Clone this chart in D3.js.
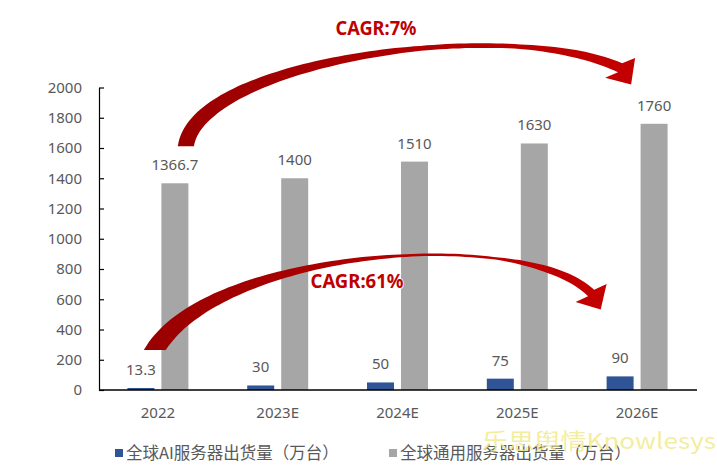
<!DOCTYPE html>
<html>
<head>
<meta charset="utf-8">
<script src="https://cdn.jsdelivr.net/npm/d3@7"></script>
<style>
  body { margin: 0; background: #fff; }
  svg { display: block; }
</style>
</head>
<body>
<div id="chart"></div>
<script>
// data
var years = ['2022', '2023E', '2024E', '2025E', '2026E'];
var aiShipments = [13.3, 30, 50, 75, 90];
var generalShipments = [1366.7, 1400, 1510, 1630, 1760];
var aiLabels = ['13.3', '30', '50', '75', '90'];
var generalLabels = ['1366.7', '1400', '1510', '1630', '1760'];
var yTicks = [0, 200, 400, 600, 800, 1000, 1200, 1400, 1600, 1800, 2000];
var seriesKeys = ['ai', 'gen'];
var seriesNames = ['全球AI服务器出货量（万台）', '全球通用服务器出货量（万台）'];
var cagrLabels = ['CAGR:7%', 'CAGR:61%'];

var svgWidth = 717;
var svgHeight = 471;
var colors = { ai: '#2f5597', gen: '#a6a6a6' };
var textColor = '#595959';
var numFont = '"Noto Sans", "Open Sans", sans-serif';
var cjkFont = '"Noto Sans CJK SC", "Noto Sans", sans-serif';

var svg = d3.select('#chart')
    .append('svg')
    .attr('width', svgWidth)
    .attr('height', svgHeight);

var defs = svg.append('defs');
var grad = defs.append('linearGradient')
    .attr('id', 'arrowGrad')
    .attr('x1', '0%').attr('y1', '0%')
    .attr('x2', '100%').attr('y2', '0%');
grad.append('stop').attr('offset', '0%').attr('stop-color', '#9a0000');
grad.append('stop').attr('offset', '100%').attr('stop-color', '#c40000');

// scales
var x0 = d3.scaleBand()
    .domain(years)
    .range([98, 697])
    .paddingInner(0.491)
    .paddingOuter(0.2455);

var x1 = d3.scaleBand()
    .domain(seriesKeys)
    .range([0, x0.bandwidth()])
    .paddingInner(0.206);

var y = d3.scaleLinear()
    .domain([0, 2000])
    .range([390, 87.5]);

var rows = years.map(function (yr, i) {
    return { year: yr, ai: aiShipments[i], gen: generalShipments[i], aiLabel: aiLabels[i], genLabel: generalLabels[i] };
});

function barCenter(year, key) {
    return x0(year) + x1(key) + x1.bandwidth() / 2;
}

// y axis with inside ticks
var leftAxis = d3.axisLeft(y)
    .tickValues(yTicks)
    .tickFormat(d3.format('d'))
    .tickSizeInner(-5)
    .tickSizeOuter(0)
    .tickPadding(17);

var yAxisG = svg.append('g')
    .attr('transform', 'translate(99,0)')
    .call(leftAxis);
yAxisG.select('.domain').attr('stroke', '#000').attr('stroke-width', 1.2);
yAxisG.selectAll('.tick line').attr('stroke', '#000').attr('stroke-width', 1.2);
yAxisG.selectAll('.tick text')
    .attr('fill', textColor)
    .style('font-family', numFont)
    .style('font-size', '15px');

// bars
var groups = svg.append('g').selectAll('g')
    .data(rows)
    .enter()
    .append('g')
    .attr('transform', function (d) { return 'translate(' + x0(d.year) + ',0)'; });

groups.selectAll('rect')
    .data(function (d) { return seriesKeys.map(function (k) { return { key: k, value: d[k] }; }); })
    .enter()
    .append('rect')
    .attr('x', function (d) { return x1(d.key); })
    .attr('y', function (d) { return y(d.value); })
    .attr('width', x1.bandwidth())
    .attr('height', function (d) { return y(0) - y(d.value); })
    .attr('fill', function (d) { return colors[d.key]; });

// x axis
var bottomAxis = d3.axisBottom(x0).tickSize(0).tickPadding(0);
var xAxisG = svg.append('g')
    .attr('transform', 'translate(0,390)')
    .call(bottomAxis);
xAxisG.select('.domain')
    .attr('d', 'M' + 99 + ',0H' + 697)
    .attr('stroke', '#000')
    .attr('stroke-width', 1.3);
xAxisG.selectAll('.tick text')
    .attr('dy', null)
    .attr('y', 28)
    .attr('fill', textColor)
    .style('font-family', numFont)
    .style('font-size', '15px');

// value labels
svg.append('g').selectAll('text')
    .data(rows)
    .enter()
    .append('text')
    .attr('x', function (d) { return barCenter(d.year, 'gen'); })
    .attr('y', function (d) { return y(d.gen) - 13; })
    .attr('text-anchor', 'middle')
    .attr('fill', textColor)
    .style('font-family', numFont)
    .style('font-size', '15px')
    .text(function (d) { return d.genLabel; });

svg.append('g').selectAll('text')
    .data(rows)
    .enter()
    .append('text')
    .attr('x', function (d) { return barCenter(d.year, 'ai'); })
    .attr('y', function (d) { return y(d.ai) - 13; })
    .attr('text-anchor', 'middle')
    .attr('fill', textColor)
    .style('font-family', numFont)
    .style('font-size', '15px')
    .text(function (d) { return d.aiLabel; });

// curved tapered arrow built along a cubic bezier
function arrowPath(p0, p1, p2, p3, widthStops, headLen, headHalf, headTurn) {
    var wScale = d3.scaleLinear().domain(widthStops.map(function (s) { return s[0]; }))
        .range(widthStops.map(function (s) { return s[1]; }));
    function pt(t) {
        var a = (1 - t) * (1 - t) * (1 - t), b = 3 * (1 - t) * (1 - t) * t, c = 3 * (1 - t) * t * t, e = t * t * t;
        return [a * p0[0] + b * p1[0] + c * p2[0] + e * p3[0], a * p0[1] + b * p1[1] + c * p2[1] + e * p3[1]];
    }
    function tan(t) {
        var a = 3 * (1 - t) * (1 - t), b = 6 * (1 - t) * t, c = 3 * t * t;
        var dx = a * (p1[0] - p0[0]) + b * (p2[0] - p1[0]) + c * (p3[0] - p2[0]);
        var dy = a * (p1[1] - p0[1]) + b * (p2[1] - p1[1]) + c * (p3[1] - p2[1]);
        var l = Math.sqrt(dx * dx + dy * dy);
        return [dx / l, dy / l];
    }
    var n = 90, sideA = [], sideB = [];
    for (var i = 0; i <= n; i++) {
        var t = i / n, p = pt(t), d = tan(t), w = wScale(t) / 2;
        var nx = -d[1], ny = d[0];
        if (i === 0) {
            // tail is cut horizontally
            var sx = nx >= 0 ? 1 : -1;
            var hw = w / Math.max(Math.abs(nx), 0.5);
            sideA.push([p[0] + sx * hw, p[1]]);
            sideB.push([p[0] - sx * hw, p[1]]);
        } else {
            sideA.push([p[0] + nx * w, p[1] + ny * w]);
            sideB.push([p[0] - nx * w, p[1] - ny * w]);
        }
    }
    var end = tan(1), ang = Math.atan2(end[1], end[0]) + headTurn * Math.PI / 180;
    var hd = [Math.cos(ang), Math.sin(ang)], he = [-hd[1], hd[0]];
    var base = pt(1);
    var barbA = [base[0] + he[0] * headHalf, base[1] + he[1] * headHalf];
    var barbB = [base[0] - he[0] * headHalf, base[1] - he[1] * headHalf];
    var tip = [base[0] + hd[0] * headLen, base[1] + hd[1] * headLen];
    var pts = sideA.concat([barbA, tip, barbB], sideB.reverse());
    return 'M' + pts.map(function (q) { return q[0].toFixed(1) + ',' + q[1].toFixed(1); }).join('L') + 'Z';
}

var arrows = svg.append('g');

// upper arrow: general servers 2022 -> 2026E
var gx0 = barCenter('2022', 'gen'), gx4 = barCenter('2026E', 'gen');
arrows.append('path')
    .attr('d', arrowPath(
        [gx0 + 11, y(generalShipments[0]) - 37],
        [gx0 + 22, 62],
        [505, 15],
        [gx4 - 34, y(generalShipments[4]) - 56],
        [[0, 16], [0.15, 14], [0.3, 11], [0.45, 8], [0.6, 5], [0.78, 4.5], [0.9, 8], [1, 10]],
        20, 18, 32))
    .attr('fill', 'url(#arrowGrad)');

// lower arrow: AI servers 2022 -> 2026E
var ax0 = barCenter('2022', 'ai'), ax4 = barCenter('2026E', 'ai');
arrows.append('path')
    .attr('d', arrowPath(
        [ax0 + 14, 350],
        [215, 250],
        [520, 225],
        [ax4 - 29, 293],
        [[0, 19], [0.15, 14], [0.3, 9], [0.42, 5.5], [0.58, 2.5], [0.74, 2.5], [0.87, 7], [1, 9]],
        19, 18, 16))
    .attr('fill', 'url(#arrowGrad)');

// CAGR labels
svg.append('text')
    .attr('x', 376).attr('y', 35)
    .attr('text-anchor', 'middle')
    .attr('fill', '#c00000')
    .attr('font-weight', 700)
    .style('font-family', numFont)
    .style('font-size', '19px')
    .attr('textLength', 81)
    .attr('lengthAdjust', 'spacingAndGlyphs')
    .text(cagrLabels[0]);

svg.append('text')
    .attr('x', 357).attr('y', 288)
    .attr('text-anchor', 'middle')
    .attr('fill', '#c00000')
    .attr('stroke', '#fff')
    .attr('stroke-width', 2)
    .attr('stroke-opacity', 0.7)
    .attr('paint-order', 'stroke')
    .attr('font-weight', 700)
    .style('font-family', numFont)
    .style('font-size', '19px')
    .attr('textLength', 93)
    .attr('lengthAdjust', 'spacingAndGlyphs')
    .text(cagrLabels[1]);

// legend
var legendX = [115, 389];
var legend = svg.append('g');
seriesKeys.forEach(function (k, i) {
    legend.append('rect')
        .attr('x', legendX[i]).attr('y', 449)
        .attr('width', 8).attr('height', 8)
        .attr('fill', colors[k]);
    legend.append('text')
        .attr('x', legendX[i] + 11).attr('y', 459)
        .attr('fill', textColor)
        .style('font-family', cjkFont)
        .style('font-size', '16.5px')
        .text(seriesNames[i]);
});

// watermark
svg.append('text')
    .attr('x', 482).attr('y', 449)
    .attr('fill', '#f1ea8c')
    .attr('fill-opacity', 0.85)
    .style('font-family', cjkFont)
    .style('font-size', '22px')
    .attr('textLength', 234)
    .attr('lengthAdjust', 'spacingAndGlyphs')
    .text('乐思舆情Knowlesys');
</script>
</body>
</html>
